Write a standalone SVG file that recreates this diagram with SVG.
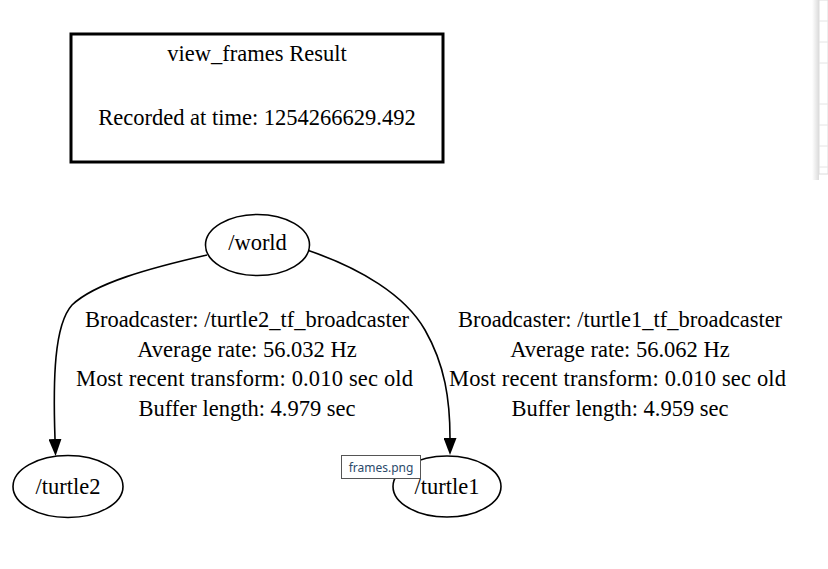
<svg xmlns="http://www.w3.org/2000/svg" width="828" height="569" viewBox="0 0 828 569">
<defs>
<style>
.t{font-family:"Liberation Serif","Times New Roman",serif;font-size:22.5px;fill:#000;text-anchor:middle}
.n{fill:#fff;stroke:#000;stroke-width:1.6}
.e{fill:none;stroke:#000;stroke-width:1.6}
.pl{stroke:#e4e4e4;stroke-width:1}
</style>
<marker id="ah" markerWidth="17" markerHeight="13" refX="0" refY="6.5" orient="auto" markerUnits="userSpaceOnUse" viewBox="0 0 17 13">
<path d="M0,0 L17,6.5 L0,13 Z" fill="#000"/>
</marker>
<linearGradient id="sh" x1="0" x2="1" y1="0" y2="0">
<stop offset="0" stop-color="#000" stop-opacity="0"/>
<stop offset="1" stop-color="#000" stop-opacity="0.14"/>
</linearGradient>
</defs>
<rect width="828" height="569" fill="#fff"/>
<g id="side-panel">
<rect x="812" y="0" width="7" height="180" fill="url(#sh)"/>
<rect x="819" y="0" width="9" height="174" fill="#fff" stroke="#dcdcdc" stroke-width="1"/>
<line class="pl" x1="819" y1="21" x2="828" y2="21"/>
<line class="pl" x1="819" y1="42" x2="828" y2="42"/>
<line class="pl" x1="819" y1="63" x2="828" y2="63"/>
<line class="pl" x1="819" y1="104" x2="828" y2="104"/>
<line class="pl" x1="819" y1="125" x2="828" y2="125"/>
<line class="pl" x1="819" y1="146" x2="828" y2="146"/>
<line class="pl" x1="819" y1="167" x2="828" y2="167"/>
</g>
<g id="title">
<rect x="71" y="34" width="372" height="128" fill="#fff" stroke="#000" stroke-width="3"/>
<text class="t" x="257" y="61">view_frames Result</text>
<text class="t" x="257" y="125">Recorded at time: 1254266629.492</text>
</g>
<g id="connectors">
<path class="e" d="M207,255 C150,268 95,283 72,305 C54,325 53,380 55,439" marker-end="url(#ah)"/>
<path class="e" d="M307,250 C360,268 405,295 425,330 C445,365 450,400 450,438" marker-end="url(#ah)"/>
<g id="label-turtle2">
<text class="t" x="247" y="327">Broadcaster: /turtle2_tf_broadcaster</text>
<text class="t" x="247" y="357">Average rate: 56.032 Hz</text>
<text class="t" x="244.5" y="386" textLength="337" lengthAdjust="spacing">Most recent transform: 0.010 sec old</text>
<text class="t" x="247" y="416">Buffer length: 4.979 sec</text>
</g>
<g id="label-turtle1">
<text class="t" x="620" y="327">Broadcaster: /turtle1_tf_broadcaster</text>
<text class="t" x="620" y="357">Average rate: 56.062 Hz</text>
<text class="t" x="617.5" y="386" textLength="337" lengthAdjust="spacing">Most recent transform: 0.010 sec old</text>
<text class="t" x="620" y="416">Buffer length: 4.959 sec</text>
</g>
</g>
<g id="world">
<ellipse class="n" cx="257.5" cy="245" rx="52" ry="30.5"/>
<text class="t" x="257.5" y="250">/world</text>
</g>
<g id="turtle2">
<ellipse class="n" cx="68" cy="486.5" rx="55" ry="31"/>
<text class="t" x="68" y="494">/turtle2</text>
</g>
<g id="turtle1">
<ellipse class="n" cx="447" cy="486.5" rx="54" ry="30.5"/>
<text class="t" x="447" y="494">/turtle1</text>
</g>
<g id="tooltip">
<rect x="341.5" y="455.5" width="79" height="23" fill="#fff" stroke="#555" stroke-width="1"/>
<text x="381" y="472" font-family="'Noto Sans','Liberation Sans',sans-serif" font-size="12" fill="#2b4a6b" text-anchor="middle">frames.png</text>
</g>
</svg>
